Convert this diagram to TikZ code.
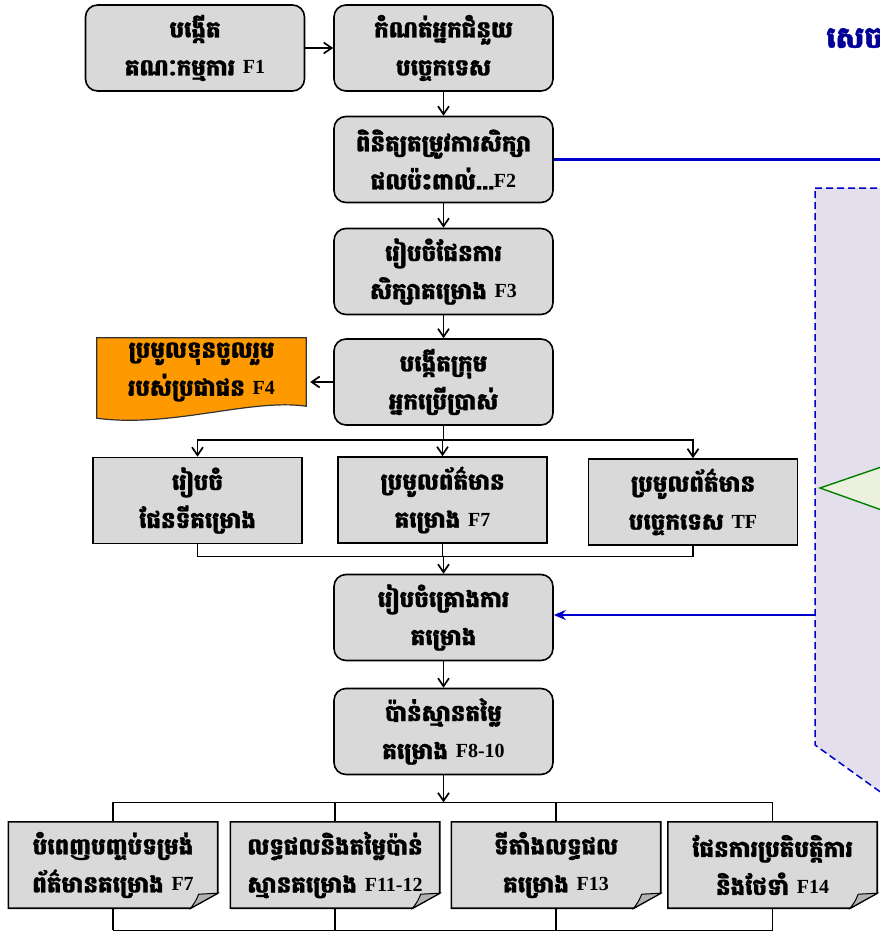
\documentclass[tikz,border=0pt]{standalone}
\usepackage{fontspec}
\newfontfamily\kh[Script=Khmer, BoldFeatures = {FakeBold = 1.2}]{Battambang}
\newfontfamily\lat{Liberation Serif}
\usetikzlibrary{arrows.meta, calc, backgrounds}
\definecolor{fourorange}{HTML}{FF9900}
\definecolor{panelfill}{HTML}{E4DFEC}
\definecolor{trifill}{HTML}{EBF1DE}
\newcommand{\khfont}{\kh\bfseries\fontsize{23}{38}\selectfont}
\newcommand{\F}[1]{\raisebox{1.5pt}{\lat\bfseries\fontsize{20}{20}\selectfont #1}}
\def\boxgray{gray!30}
\def\linkblue{blue!80!black}

\begin{document}
\begin{tikzpicture}[x = 1pt, y = -1pt,
		rbox/.style = {draw, line width = 1.6pt, rounded corners = 12pt, fill = \boxgray, minimum width = 219pt, minimum height = 86pt, inner sep = 1pt, align = center, font = \khfont},
		sbox/.style = {draw, line width = 1.6pt, fill = \boxgray, minimum width = 209pt, minimum height = 86pt, inner sep = 1pt, align = center, font = \khfont},
		dbox/.style = {minimum width = 209pt, minimum height = 86pt, inner sep = 1pt, align = center, font = \khfont},
		arr/.style = {-{Straight Barb[length = 8pt, width = 11pt, line width = 1.7pt]}, line width = 1.4pt},
		wire/.style = {line width = 1.4pt}]
		\useasboundingbox (0, 0) rectangle (879, 934);
		\filldraw[fill = panelfill, draw = \linkblue, dash pattern = on 7pt off 4pt, line width = 1.5pt] (815, 188) -- (900, 188) -- (900, 805) -- (879, 791) -- (815, 745) -- cycle;
		\filldraw[fill = trifill, draw = green!50!black, line width = 1.4pt] (960, 440) -- (820, 488) -- (960, 538);
		\node[font = \kh\bfseries\fontsize{30}{30}\selectfont, text = blue!60!black, anchor = west, inner sep = 0pt] (ttl) at (826, 38) {សេច};
		\node[rbox] (f1) at (195, 48) {បង្កើត\\គណៈកម្មការ \F{F1}};
		\node[rbox] (tech) at (443.5, 48) {កំណត់អ្នកជំនួយ\\បច្ចេកទេស};
		\node[rbox] (f2) at (443.5, 159.5) {ពិនិត្យតម្រូវការសិក្សា\\ផលប៉ះពាល់...\F{F2}};
		\node[rbox] (f3) at (443.5, 271.5) {រៀបចំផែនការ\\សិក្សាគម្រោង \F{F3}};
		\node[rbox] (users) at (443.5, 382) {បង្កើតក្រុម\\អ្នកប្រើប្រាស់};
		\node[dbox, minimum height = 68pt] (f4) at (201.5, 372) {ប្រមូលទុនចូលរួម\\របស់ប្រជាជន \F{F4}};
		\node[sbox] (map) at (197.5, 500.5) {រៀបចំ\\ផែនទីគម្រោង};
		\node[sbox] (f7a) at (442.5, 500) {ប្រមូលព័ត៌មាន\\គម្រោង \F{F7}};
		\node[sbox] (tf) at (693, 502) {ប្រមូលព័ត៌មាន\\បច្ចេកទេស \F{TF}};
		\node[rbox] (plan) at (443.5, 617.5) {រៀបចំគ្រោងការ\\គម្រោង};
		\node[rbox] (cost) at (443.5, 731.5) {ប៉ាន់ស្មានតម្លៃ\\គម្រោង \F{F8-10}};
		\node[dbox] (d1) at (113, 865) {បំពេញបញ្ចប់ទម្រង់\\ព័ត៌មានគម្រោង \F{F7}};
		\node[dbox] (d2) at (335, 865) {លទ្ធផលនិងតម្លៃប៉ាន់\\ស្មានគម្រោង \F{F11-12}};
		\node[dbox] (d3) at (556, 865) {ទីតាំងលទ្ធផល\\គម្រោង \F{F13}};
		\node[dbox] (d4) at (772.5, 865) {ផែនការប្រតិបត្តិការ\\និងថែទាំ \F{F14}};
		\begin{pgfonlayer}{background}
			\filldraw[fill = fourorange, draw = black!80, line width = 1.2pt] (f4.north west) -- (f4.north east) -- (f4.south east)
				.. controls ($(f4.south east) + (-56, -8)$) and ($(f4.south west) + (74, 22)$) .. ($(f4.south west) + (0, 12)$) -- cycle;
			\foreach \d in {d1, d2, d3, d4}
			{
				\filldraw[fill = \boxgray, line width = 1.6pt] (\d.north west) -- (\d.north east) -- ($(\d.south east) + (0, -15)$) -- ($(\d.south east) + (-27, 0)$) -- (\d.south west) -- cycle;
				\filldraw[fill = gray!60, line width = 1pt] ($(\d.south east) + (-27, 0)$) .. controls ($(\d.south east) + (-22, -7)$) .. ($(\d.south east) + (-19, -14)$) -- ($(\d.south east) + (0, -15)$) -- cycle;
			}
		\end{pgfonlayer}
		\draw[arr] (f1) -- (tech);
		\draw[arr] (tech) -- (f2);
		\draw[arr] (f2) -- (f3);
		\draw[arr] (f3) -- (users);
		\draw[arr, shorten > = 4pt] (users.west) -- (users.west -| f4.east);
		\coordinate (split) at ($(users.south) + (0, 14)$);
		\draw[wire] (users.south) -- (split);
		\foreach \n in {map, f7a, tf}
			\draw[arr] (split) -| (\n.north);
		\coordinate (join) at ($(plan.north) + (0, -17)$);
		\foreach \n in {map, f7a, tf}
			\draw[wire] (\n.south) |- (join);
		\draw[arr] (join) -- (plan.north);
		\draw[arr] (plan) -- (cost);
		\coordinate (fan) at ($(cost.south) + (0, 27)$);
		\draw[arr] (cost.south) -- (fan);
		\foreach \d in {d1, d2, d3, d4}
			\draw[wire] (fan) -| (\d.north);
		\coordinate (tail) at ($(d1.south) + (0, 22)$);
		\foreach \d in {d1, d2, d3, d4}
			\draw[wire] (\d.south) |- (tail);
		\draw[wire] (tail) -| (d4.south);
		\draw[\linkblue, line width = 2.4pt] (f2.east) -- ++(340, 0);
		\coordinate (pin) at (815, 615);
		\draw[-{Stealth[length = 12pt, width = 10pt]}, \linkblue, line width = 2.4pt] (pin) -- (pin -| plan.east);
	\end{tikzpicture}
\end{document}
